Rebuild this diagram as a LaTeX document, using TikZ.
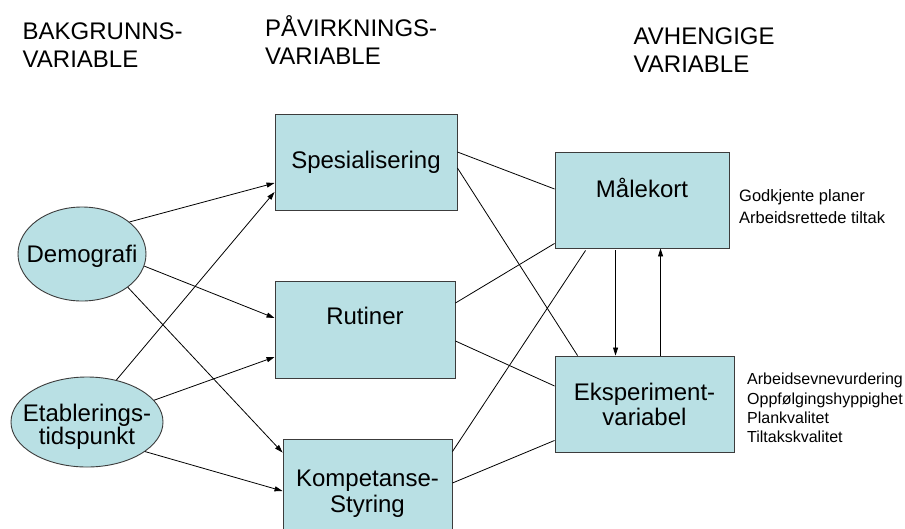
\documentclass[tikz,border=0pt]{standalone}
\usepackage{fontspec}
\setmainfont{Liberation Sans}
\usetikzlibrary{arrows.meta,shapes.geometric,calc}
\definecolor{boxfill}{RGB}{185,224,228}
\definecolor{boxline}{RGB}{60,60,60}
\begin{document}
\begin{tikzpicture}[x=1pt,y=-1pt,
  bigtxt/.style={font=\fontsize{24}{25}\selectfont},
  boxnode/.style={draw=boxline,fill=boxfill,line width=0.9pt,rectangle,align=center,inner sep=0pt,bigtxt},
  ellnode/.style={draw=boxline,fill=boxfill,line width=0.9pt,ellipse,inner sep=0pt},
  elltxt/.style={align=center,inner sep=0pt},
  header/.style={align=left,anchor=west,inner sep=0pt,font=\fontsize{24}{28}\selectfont},
  note/.style={align=left,anchor=west,inner sep=0pt},
  arr/.style={-{Triangle[length=8pt,width=5pt]},line width=0.8pt},
  conn/.style={line width=0.8pt}]
\clip (0,0) rectangle (905,528);
\fill[white] (0,0) rectangle (905,528);

% headers
\node[header] (h1) at (22.5,44.7) {BAKGRUNNS-\\VARIABLE};
\node[header] (h2) at (265,40.5) {PÅVIRKNINGS-\\VARIABLE};
\node[header] (h3) at (633.5,50.4) {AVHENGIGE\\VARIABLE};

% ellipses
\node[ellnode,minimum width=128pt,minimum height=94pt] (demo) at (82,254) {};
\node[elltxt,font=\fontsize{24}{25}\selectfont] (demoT) at ([yshift=-2pt]demo.center) {Demografi};
\node[ellnode,minimum width=152pt,minimum height=90pt] (etab) at (87,422) {};
\node[elltxt,font=\fontsize{24}{23}\selectfont] (etabT) at ([yshift=-4.5pt]etab.center) {Etablerings-\\tidspunkt};

% middle boxes
\node[boxnode,minimum width=182pt,minimum height=96pt] (spes) at (366,162) {Spesialisering};
\node[boxnode,minimum width=180pt,minimum height=97pt,font=\fontsize{24}{27}\selectfont] (rut) at (365,329.5) {Rutiner\\\mbox{}};
\node[boxnode,minimum width=169pt,minimum height=110pt,font=\fontsize{24}{26}\selectfont] (komp) at (367.5,494) {Kompetanse-\\Styring};

% right boxes
\node[boxnode,minimum width=174pt,minimum height=96pt] (male) at (642,200) {Målekort\\\mbox{}};
\node[boxnode,minimum width=179pt,minimum height=96pt] (eksp) at (644.5,404) {Eksperiment-\\variabel};

% notes
\node[note,font=\fontsize{16.5}{22}\selectfont] (n1) at (739,207) {Godkjente planer\\Arbeidsrettede tiltak};
\node[note,font=\fontsize{16}{19.3}\selectfont] (n2) at (747,408) {Arbeidsevnevurdering\\Oppfølgingshyppighet\\Plankvalitet\\Tiltakskvalitet};

% arrows from background variables
\draw[arr] (demo.34) -- ([yshift=-21pt]spes.west);
\draw[arr] (demo.-11) -- ([yshift=11.5pt]rut.west);
\draw[arr] (demo.-36) -- ([yshift=-14pt]komp.north west);
\draw[arr] (etab.55) -- ([yshift=-30pt]spes.west);
\draw[arr] (etab.18) -- ([yshift=-27.5pt]rut.west);
\draw[arr] (etab.-27) -- ([yshift=3pt]komp.west);

% connections to dependent variables
\draw[conn] ([yshift=10pt]spes.east) -- ([yshift=11pt]male.west);
\draw[conn] ([yshift=-6pt]spes.east) -- ([xshift=23pt]eksp.north west);
\draw[conn] ([yshift=26.5pt]rut.east) -- ([yshift=5pt]male.south west);
\draw[conn] ([yshift=-11.5pt]rut.east) -- ([yshift=18pt]eksp.west);
\draw[conn] ([yshift=-13pt]komp.north east) -- ([xshift=31pt,yshift=-2pt]male.south west);
\draw[conn] ([yshift=11pt]komp.east) -- ([yshift=12pt]eksp.south west);

% between dependent variables
\coordinate (mdown) at ([xshift=61pt,yshift=-2pt]male.south west);
\draw[arr] (mdown) -- (mdown |- eksp.north);
\coordinate (eup) at ([xshift=106pt]eksp.north west);
\draw[arr] (eup) -- (eup |- male.south);
\end{tikzpicture}
\end{document}
